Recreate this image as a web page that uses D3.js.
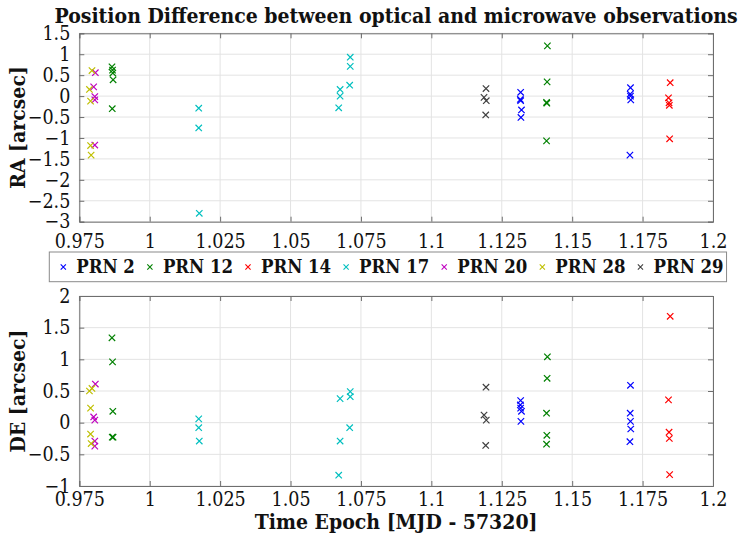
<!DOCTYPE html>
<html>
<head>
<meta charset="utf-8">
<script src="https://cdn.jsdelivr.net/npm/d3@7"></script>
<style>
  body { margin: 0; background: #fff; }
  text { font-family: "DejaVu Serif", serif; font-stretch: condensed; fill: #111; }
</style>
</head>
<body>
<div class="chart"></div>
<script>
// series names and colours (matlab default letters)
let prnNames = ['PRN 2', 'PRN 12', 'PRN 14', 'PRN 17', 'PRN 20', 'PRN 28', 'PRN 29'];
let prnColors = ['#0000ff', '#008000', '#ff0000', '#00bfbf', '#bf00bf', '#bfbf00', '#404040'];

// epochs per series [MJD - 57320]
let epochs = [
	[1.1317, 1.1316, 1.1317, 1.1320, 1.1318, 1.1707, 1.1706, 1.1707, 1.1708, 1.1705],
	[0.9866, 0.9868, 0.9869, 0.9870, 0.9867, 1.1412, 1.1411, 1.1409, 1.1410, 1.1409],
	[1.1848, 1.1842, 1.1844, 1.1845, 1.1846],
	[1.0174, 1.0174, 1.0176, 1.0712, 1.0712, 1.0710, 1.0676, 1.0676, 1.0671],
	[0.9807, 0.9801, 0.9805, 0.9805, 0.9805],
	[0.9795, 0.9786, 0.9790, 0.9790, 0.9792],
	[1.1194, 1.1187, 1.1195, 1.1193]
];

// RA difference [arcsec]
let raDiff = [
	[0.09, -0.08, -0.11, -0.33, -0.51, 0.20, 0.05, 0.00, -0.09, -1.41],
	[0.70, 0.62, 0.55, 0.39, -0.30, 1.20, 0.34, -0.15, -0.17, -1.07],
	[0.32, -0.04, -0.16, -0.22, -1.02],
	[-0.29, -0.76, -2.80, 0.93, 0.71, 0.26, 0.16, 0.00, -0.28],
	[0.56, 0.22, -0.01, -0.09, -1.17],
	[0.61, 0.16, -0.12, -1.18, -1.41],
	[0.18, -0.03, -0.11, -0.45]
];

// DE difference [arcsec]
let deDiff = [
	[0.35, 0.28, 0.23, 0.18, 0.02, 0.59, 0.15, 0.02, -0.10, -0.30],
	[1.34, 0.96, 0.18, -0.23, -0.23, 1.04, 0.70, 0.15, -0.20, -0.34],
	[1.68, 0.36, -0.15, -0.25, -0.82],
	[0.06, -0.08, -0.29, 0.49, 0.41, -0.08, 0.38, -0.29, -0.83],
	[0.61, 0.09, 0.04, -0.29, -0.37],
	[0.54, 0.50, 0.23, -0.18, -0.33],
	[0.56, 0.12, 0.04, -0.36]
];

let xTicks = [0.975, 1, 1.025, 1.05, 1.075, 1.1, 1.125, 1.15, 1.175, 1.2];
let raTicks = [1.5, 1, 0.5, 0, -0.5, -1, -1.5, -2, -2.5, -3];
let deTicks = [2, 1.5, 1, 0.5, 0, -0.5, -1];

let W = 740, H = 538;
let left = 79.3, right = 713;

let svg = d3.select('.chart')
	.append('svg')
	.attr('width', W)
	.attr('height', H);

let xScale = d3.scaleLinear()
	.domain([0.975, 1.2])
	.range([left, right]);

function panel(values, yDomain, yTicks, top, bottom, label, xPad) {
	let yScale = d3.scaleLinear().domain(yDomain).range([bottom, top]);
	let g = svg.append('g');

	// grid
	g.append('g').selectAll('line.gx')
		.data(xTicks).enter().append('line')
		.attr('x1', d => xScale(d)).attr('x2', d => xScale(d))
		.attr('y1', top).attr('y2', bottom)
		.style('stroke', '#e3e3e3').style('stroke-width', 1);
	g.append('g').selectAll('line.gy')
		.data(yTicks).enter().append('line')
		.attr('x1', left).attr('x2', right)
		.attr('y1', d => yScale(d)).attr('y2', d => yScale(d))
		.style('stroke', '#e3e3e3').style('stroke-width', 1);

	// axes (ticks inward like matlab)
	let fmt = d3.format('');
	let xb = g.append('g').attr('transform', 'translate(0,' + bottom + ')')
		.call(d3.axisBottom(xScale).tickValues(xTicks).tickSize(-5).tickPadding(xPad).tickFormat(fmt));
	let xt = g.append('g').attr('transform', 'translate(0,' + top + ')')
		.call(d3.axisTop(xScale).tickValues(xTicks).tickSize(-5).tickFormat(''));
	let yl = g.append('g').attr('transform', 'translate(' + left + ',0)')
		.call(d3.axisLeft(yScale).tickValues(yTicks).tickSize(-5).tickPadding(9).tickFormat(fmt));
	let yr = g.append('g').attr('transform', 'translate(' + right + ',0)')
		.call(d3.axisRight(yScale).tickValues(yTicks).tickSize(-5).tickFormat(''));
	[xb, xt, yl, yr].forEach(a => {
		a.selectAll('path, line').style('stroke', '#6e6e6e');
		a.selectAll('text')
			.style('font-size', '19.5px')
			.style('font-family', '"DejaVu Serif", serif')
			.style('font-stretch', 'condensed')
			.style('fill', '#111');
	});

	// markers
	let pts = [];
	values.forEach((s, i) => s.forEach((v, j) => pts.push({x: epochs[i][j], y: v, c: prnColors[i]})));
	let r = 3.2;
	g.append('g').selectAll('path.mk')
		.data(pts).enter().append('path')
		.attr('d', d => {
			let cx = xScale(d.x), cy = yScale(d.y);
			return 'M' + (cx - r) + ',' + (cy - r) + 'L' + (cx + r) + ',' + (cy + r) +
				'M' + (cx - r) + ',' + (cy + r) + 'L' + (cx + r) + ',' + (cy - r);
		})
		.style('stroke', d => d.c)
		.style('stroke-width', 1.2)
		.style('fill', 'none');

	svg.append('text')
		.attr('transform', 'translate(25,' + (top + bottom) / 2 + ') rotate(-90)')
		.attr('text-anchor', 'middle')
		.style('font-size', '21px')
		.style('font-weight', 'bold')
		.text(label);
}

panel(raDiff, [-3, 1.5], raTicks, 33.3, 221.7, 'RA [arcsec]', 12);
panel(deDiff, [-1, 2], deTicks, 296, 486, 'DE [arcsec]', 6);

// title and x label
svg.append('text')
	.attr('x', (left + right) / 2).attr('y', 23)
	.attr('text-anchor', 'middle')
	.style('font-size', '21px')
	.style('font-weight', 'bold')
	.text('Position Difference between optical and microwave observations');

svg.append('text')
	.attr('x', (left + right) / 2).attr('y', 529)
	.attr('text-anchor', 'middle')
	.style('font-size', '21px')
	.style('font-weight', 'bold')
	.text('Time Epoch [MJD - 57320]');

// legend
let lg = svg.append('g');
let box = lg.append('rect')
	.attr('y', 252).attr('height', 29.7)
	.style('fill', '#fff').style('stroke', '#8a8a8a');
let cur = 49.3 + 14;
prnNames.forEach((name, i) => {
	let m = 2.6;
	lg.append('path')
		.attr('d', 'M' + (cur - m) + ',' + (267 - m) + 'L' + (cur + m) + ',' + (267 + m) +
			'M' + (cur - m) + ',' + (267 + m) + 'L' + (cur + m) + ',' + (267 - m))
		.style('stroke', prnColors[i]).style('stroke-width', 1.1);
	let t = lg.append('text')
		.attr('x', cur + 13).attr('y', 273)
		.style('font-size', '18.4px')
		.style('font-weight', 'bold')
		.text(name);
	cur = cur + 13 + t.node().getComputedTextLength() + 15;
});
box.attr('x', 49.3).attr('width', cur - 15 + 3 - 49.3);
</script>
</body>
</html>
